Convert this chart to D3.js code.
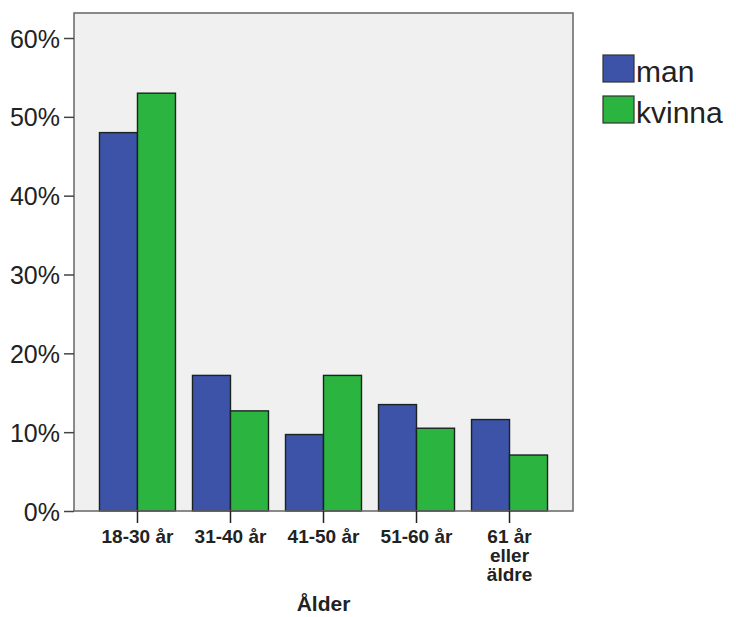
<!DOCTYPE html>
<html><head><meta charset="utf-8">
<script src="https://cdn.jsdelivr.net/npm/d3@7"></script>
<style>body{margin:0;background:#fff}svg{display:block}</style>
</head><body>
<script>
const categories = [["18-30 år"], ["31-40 år"], ["41-50 år"], ["51-60 år"], ["61 år","eller","äldre"]];
const seriesNames = ["man", "kvinna"];
const manValues = [48.0, 17.2, 9.7, 13.5, 11.6];
const kvinnaValues = [53.0, 12.7, 17.2, 10.5, 7.1];
const yTicks = [0, 10, 20, 30, 40, 50, 60];
const xTitle = "Ålder";
const colors = ["#3c53a8", "#2bb540"];

const W = 736, H = 617;
const m = {left: 74, right: 163, top: 13, bottom: 106};
const svg = d3.select("body").append("svg").attr("width", W).attr("height", H);
const x = d3.scaleBand().domain(d3.range(categories.length)).range([m.left, W - m.right]).paddingInner(0.183).paddingOuter(0.274);
const x1 = d3.scaleBand().domain(seriesNames).range([0, x.bandwidth()]);
const y = d3.scaleLinear().domain([0, 60]).range([H - m.bottom, 38]);

svg.append("rect").attr("x", m.left).attr("y", m.top).attr("width", W - m.right - m.left).attr("height", H - m.bottom - m.top)
  .attr("fill", "#f0f0f0");

const data = categories.map((c, i) => ({i, vals: [manValues[i], kvinnaValues[i]]}));
const g = svg.append("g");
data.forEach(d => {
  d.vals.forEach((v, j) => {
    g.append("rect").attr("x", x(d.i) + x1(seriesNames[j])).attr("y", y(v))
      .attr("width", x1.bandwidth()).attr("height", y(0) - y(v))
      .attr("fill", colors[j]).attr("stroke", "#1a2222").attr("stroke-width", 1.4);
  });
});

// frame
svg.append("rect").attr("x", m.left).attr("y", m.top).attr("width", W - m.right - m.left).attr("height", H - m.bottom - m.top)
  .attr("fill", "none").attr("stroke", "#666").attr("stroke-width", 1.5);

// y axis
const ya = svg.append("g").attr("transform", `translate(${m.left},0)`)
  .call(d3.axisLeft(y).tickValues(yTicks).tickFormat(d => d + "%").tickSize(10).tickSizeOuter(0));
ya.select(".domain").remove();
ya.selectAll("line").attr("stroke", "#444").attr("stroke-width", 1.5);
ya.selectAll("text").attr("font-family", "Liberation Sans, Arial, sans-serif").attr("font-size", 25).attr("fill", "#222").attr("dx", -1).attr("dy", "0.36em");

// x axis
const xa = svg.append("g").attr("transform", `translate(0,${H - m.bottom})`)
  .call(d3.axisBottom(x).tickSize(12).tickSizeOuter(0).tickFormat(""));
xa.select(".domain").remove();
xa.selectAll("line").attr("stroke", "#222").attr("stroke-width", 1.5);
xa.selectAll(".tick").each(function(d) {
  const t = d3.select(this).append("text").attr("x", 0).attr("y", 32)
    .attr("text-anchor", "middle").attr("font-family", "Liberation Sans, Arial, sans-serif")
    .attr("font-weight", "bold").attr("font-size", 19).attr("fill", "#222");
  categories[d].forEach((s, k) => t.append("tspan").attr("x", 0).attr("dy", k ? 19 : 0).text(s));
});

svg.append("text").attr("x", (m.left + W - m.right) / 2).attr("y", 611).attr("text-anchor", "middle")
  .attr("font-family", "Liberation Sans, Arial, sans-serif").attr("font-weight", "bold").attr("font-size", 21).attr("fill", "#222").text(xTitle);

// legend
const lg = svg.append("g");
seriesNames.forEach((s, j) => {
  const yy = 55 + j * 41;
  lg.append("rect").attr("x", 603).attr("y", yy).attr("width", 31).attr("height", 27)
    .attr("fill", colors[j]).attr("stroke", "#333").attr("stroke-width", 1.2);
  lg.append("text").attr("x", 636).attr("y", yy + 27).attr("font-family", "Liberation Sans, Arial, sans-serif")
    .attr("font-size", 30).attr("fill", "#222").text(s);
});
</script>
</body></html>
